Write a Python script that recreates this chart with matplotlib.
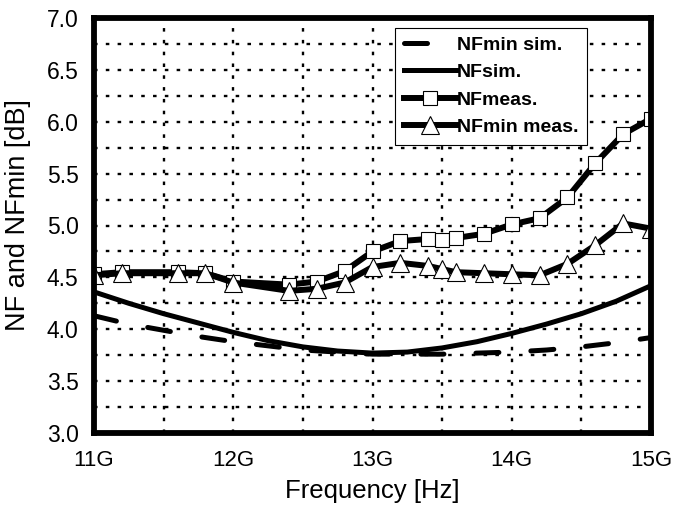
# NF / NFmin vs frequency: simulation curves and measured points

import matplotlib
matplotlib.use("Agg")
import matplotlib.pyplot as plt
from matplotlib.ticker import MultipleLocator, FuncFormatter

plt.rcParams['font.family'] = ['Liberation Sans', 'DejaVu Sans']

# measured points (GHz, dB)
freq_meas = [11.0, 11.2, 11.6, 11.8, 12.0, 12.4, 12.6, 12.8, 13.0, 13.2,
             13.4, 13.5, 13.6, 13.8, 14.0, 14.2, 14.4, 14.6, 14.8, 15.0]
nf_meas = [4.53, 4.55, 4.55, 4.54, 4.46, 4.43, 4.46, 4.56, 4.75, 4.85,
           4.87, 4.86, 4.88, 4.92, 5.01, 5.07, 5.27, 5.60, 5.88, 6.03]
nfmin_meas = [4.52, 4.54, 4.54, 4.54, 4.45, 4.37, 4.39, 4.45, 4.60, 4.64,
              4.61, 4.58, 4.55, 4.54, 4.53, 4.52, 4.63, 4.81, 5.02, 4.97]

# simulated curves
freq_sim = [11.0, 11.25, 11.5, 11.75, 12.0, 12.25, 12.5, 12.75, 13.0, 13.25,
            13.5, 13.75, 14.0, 14.25, 14.5, 14.75, 15.0]
nf_sim = [4.36, 4.25, 4.15, 4.06, 3.97, 3.89, 3.83, 3.79, 3.77, 3.78,
          3.82, 3.88, 3.96, 4.05, 4.15, 4.27, 4.42]
nfmin_sim = [4.13, 4.05, 3.99, 3.93, 3.88, 3.84, 3.80, 3.78, 3.76, 3.76,
             3.76, 3.77, 3.78, 3.80, 3.83, 3.87, 3.92]

fig = plt.figure(figsize=(6.74, 5.05), dpi=100)
ax = fig.add_axes([94 / 674, 72 / 505, 557 / 674, 415 / 505])

ax.plot(freq_sim, nfmin_sim, color='black', lw=3.6, dashes=(4.6, 6.4),
        dash_capstyle='round', label='NFmin sim.')
ax.plot(freq_sim, nf_sim, color='black', lw=3.6, label='NFsim.')
ax.plot(freq_meas, nf_meas, color='black', lw=4.3, marker='s', ms=10.5,
        mfc='white', mec='black', mew=0.8, label='NFmeas.')
ax.plot(freq_meas, nfmin_meas, color='black', lw=4.3, marker='^', ms=13.5,
        mfc='white', mec='black', mew=0.8, label='NFmin meas.')

ax.set_xlim(11, 15)
ax.set_ylim(3.0, 7.0)
ax.xaxis.set_major_locator(MultipleLocator(1))
ax.xaxis.set_minor_locator(MultipleLocator(0.5))
ax.yaxis.set_major_locator(MultipleLocator(0.5))
ax.yaxis.set_minor_locator(MultipleLocator(0.25))
ax.xaxis.set_major_formatter(FuncFormatter(lambda v, p: f"{v:.0f}G"))
ax.yaxis.set_major_formatter(FuncFormatter(lambda v, p: f"{v:.1f}"))

ax.grid(True, which='both', color='black', lw=1.7, linestyle=(0, (1.5, 3.5)))
ax.set_axisbelow(True)
ax.tick_params(which='both', length=0, labelsize=16)
ax.tick_params(axis='y', pad=11, labelsize=16.5)
ax.tick_params(axis='x', pad=12)

for s in ax.spines.values():
    s.set_linewidth(4.2)
    s.set_zorder(5)

ax.set_xlabel('Frequency [Hz]', fontsize=18.5, labelpad=6)
ax.set_ylabel('NF and NFmin [dB]', fontsize=19.5)
ax.yaxis.set_label_coords(-0.113, 0.525)

leg = ax.legend(loc='upper right', bbox_to_anchor=(0.885, 0.977),
                fancybox=False, framealpha=1, edgecolor='black',
                prop={'weight': 'bold', 'size': 14}, handlelength=2.7,
                handletextpad=0.0, labelspacing=0.5, borderpad=0.45,
                borderaxespad=0)
leg.get_frame().set_linewidth(0.8)

fig.savefig('out.png', dpi=100)
